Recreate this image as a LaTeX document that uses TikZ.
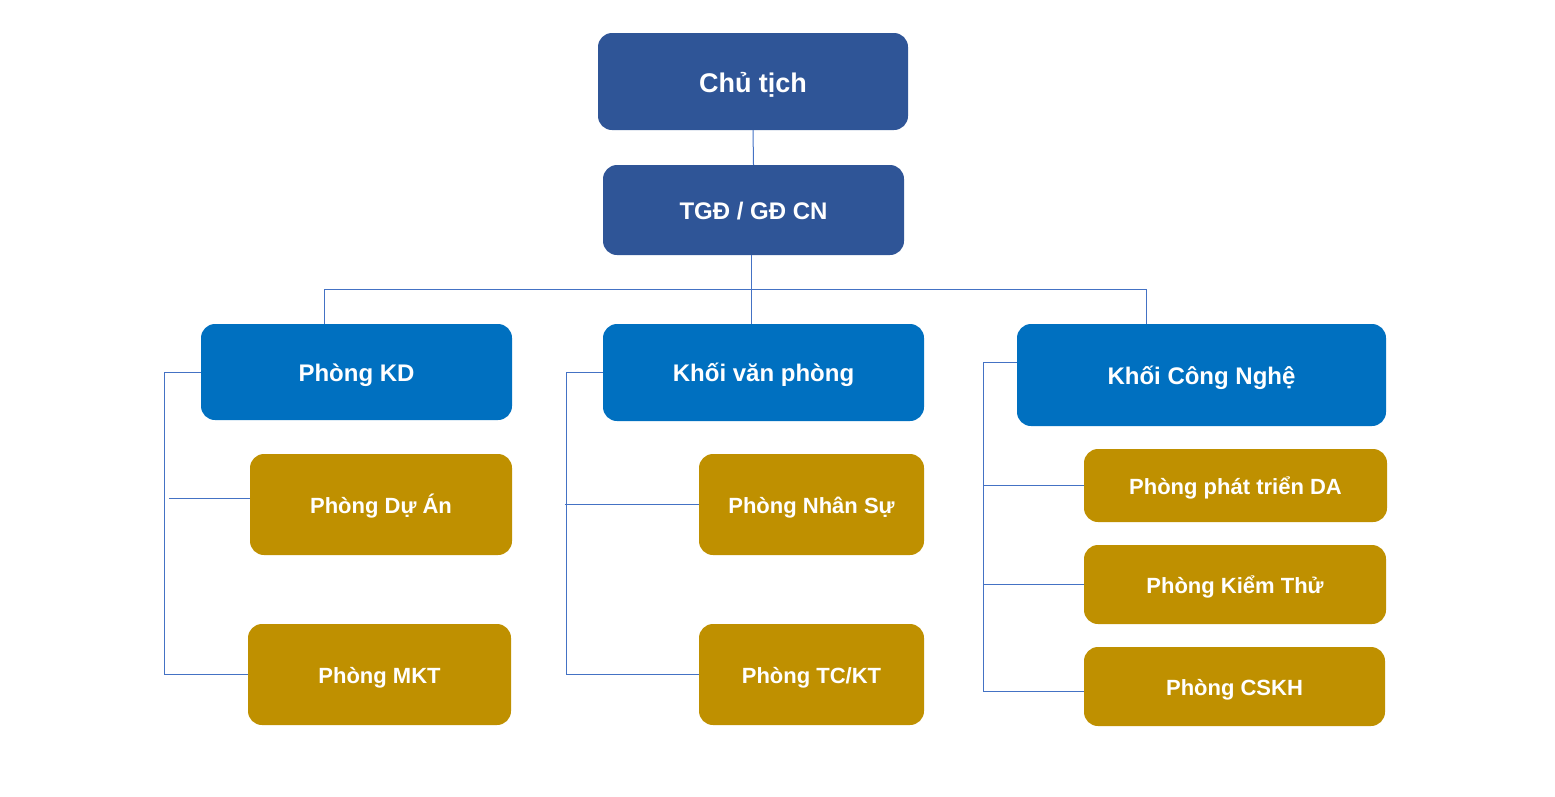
\documentclass[tikz,border=0pt]{standalone}
\usepackage{fontspec}
\setmainfont{Liberation Sans}
\usepackage{xcolor}
\usepackage{tikz}
\usetikzlibrary{positioning, calc}

\definecolor{leadblue}{HTML}{2F5597}
\definecolor{unitblue}{HTML}{0070C0}
\definecolor{deptgold}{HTML}{BF9000}
\definecolor{linkblue}{HTML}{4472C4}

\begin{document}
\begin{tikzpicture}[
    x=1pt, y=-1pt,
    box/.style={rectangle, rounded corners=14pt, draw=none, text=white, inner sep=0pt, align=center, text height=17pt, text depth=0pt, font=\bfseries\fontsize{22}{26}\selectfont},
    lead/.style={box, fill=leadblue, text height=18.7pt, font=\bfseries\fontsize{24}{28}\selectfont},
    unit/.style={box, fill=unitblue, text height=18.7pt, font=\bfseries\fontsize{24}{28}\selectfont},
    dept/.style={box, fill=deptgold},
    link/.style={draw=linkblue, line width=1pt}
]
\useasboundingbox (0,0) rectangle (1555,796);

\node[lead, minimum width=310, minimum height=97, text height=21pt, font=\bfseries\fontsize{27}{31}\selectfont] (chutich) at (753,81.5) {Chủ tịch};
\node[lead, minimum width=301, minimum height=90] (tgd) at (753.5,210) {TGĐ / GĐ CN};

\node[unit, minimum width=311, minimum height=96] (kd) at (356.5,372) {Phòng KD};
\node[unit, minimum width=321, minimum height=97] (vp) at (763.5,372.5) {Khối văn phòng};
\node[unit, minimum width=369, minimum height=102] (cn) at (1201.5,375) {Khối Công Nghệ};

\node[dept, minimum width=262, minimum height=101] (duan) at (381,504.5) {Phòng Dự Án};
\node[dept, minimum width=263, minimum height=101] (mkt) at (379.5,674.5) {Phòng MKT};
\node[dept, minimum width=225, minimum height=101] (nhansu) at (811.5,504.5) {Phòng Nhân Sự};
\node[dept, minimum width=225, minimum height=101] (tckt) at (811.5,674.5) {Phòng TC/KT};
\node[dept, minimum width=303, minimum height=73] (ptda) at (1235.5,485.5) {Phòng phát triển DA};
\node[dept, minimum width=302, minimum height=79] (kiemthu) at (1235,584.5) {Phòng Kiểm Thử};
\node[dept, minimum width=301, minimum height=79] (cskh) at (1234.5,686.5) {Phòng CSKH};

\coordinate (busL) at (324,289);
\coordinate (busR) at (1146,289);
\coordinate (busM) at (751,289);
\coordinate (duanin) at ([yshift=6pt]duan.west);
\coordinate (cnout) at ([yshift=13pt]cn.west);
\coordinate (cskhin) at ([yshift=-4.5pt]cskh.west);

\draw[link] (chutich.south) -- (tgd.north);
\draw[link] (busM |- tgd.south) -- (busM |- vp.north);
\draw[link] (busL |- kd.north) -- (busL) -- (busR) -- (busR |- cn.north);

\draw[link] (kd.west) -- ++(-36,0) coordinate (kdbus) |- (mkt.west);
\draw[link] ([xshift=4pt]kdbus |- duanin) -- (duanin);

\draw[link] (vp.west) -- ++(-36,0) coordinate (vpbus) |- (tckt.west);
\draw[link] ([xshift=-2pt]vpbus |- nhansu.west) -- (nhansu.west);

\draw[link] (cnout) -- ++(-33,0) coordinate (cnbus) |- (cskhin);
\draw[link] (cnbus |- ptda.west) -- (ptda.west);
\draw[link] (cnbus |- kiemthu.west) -- (kiemthu.west);

\end{tikzpicture}
\end{document}
